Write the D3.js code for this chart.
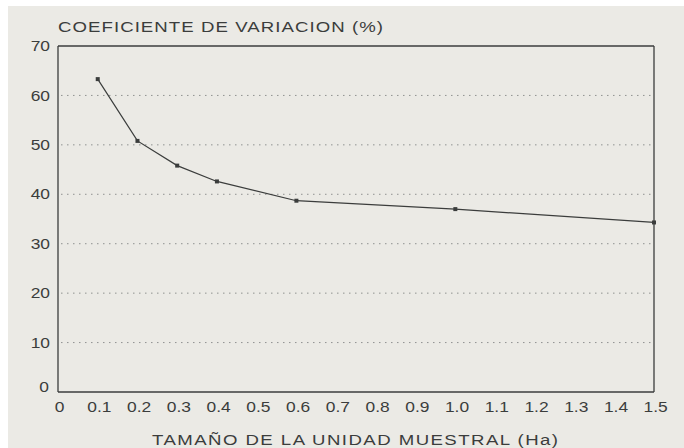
<!DOCTYPE html>
<html><head><meta charset="utf-8">
<script src="https://cdn.jsdelivr.net/npm/d3@7"></script>
<style>html,body{margin:0;padding:0;background:#fff;}svg{display:block;}</style>
</head><body>
<svg id="c" width="684" height="448"></svg>
<script>
const xValues = [0.1, 0.2, 0.3, 0.4, 0.6, 1.0, 1.5];
const cvValues = [63.3, 50.8, 45.8, 42.6, 38.7, 37.0, 34.3];
const xTicks = [0,0.1,0.2,0.3,0.4,0.5,0.6,0.7,0.8,0.9,1.0,1.1,1.2,1.3,1.4,1.5];
const xTickLabels = ["0","0.1","0.2","0.3","0.4","0.5","0.6","0.7","0.8","0.9","1.0","1.1","1.2","1.3","1.4","1.5"];
const yTicks = [0,10,20,30,40,50,60,70];
const gridValues = [10,20,30,40,50,60];
const titleText = "COEFICIENTE DE VARIACION (%)";
const xTitleText = "TAMAÑO DE LA UNIDAD MUESTRAL (Ha)";

const svg = d3.select("#c");
const W = 684, H = 448;
const m = {left:58, right:654, top:46, bottom:392};
const SX = 1.2;
svg.append("rect").attr("x",0).attr("y",0).attr("width",W).attr("height",H).attr("fill","#ffffff");
svg.append("rect").attr("x",8).attr("y",6).attr("width",W-8).attr("height",H-6).attr("fill","#ebeae5");

const x = d3.scaleLinear().domain([0,1.5]).range([m.left, m.right]);
const y = d3.scaleLinear().domain([0,70]).range([m.bottom, m.top]);
const ink = "#3b3d3c";
const font = "Liberation Sans, Arial, Helvetica, sans-serif";

// gridlines
svg.append("g").selectAll("line").data(gridValues).join("line")
  .attr("x1", m.left+3).attr("x2", m.right-2)
  .attr("y1", d=>y(d)).attr("y2", d=>y(d))
  .attr("stroke","#8f9190").attr("stroke-width",1).attr("stroke-dasharray","1.5,4.5");

// frame
svg.append("line").attr("x1",m.left).attr("x2",m.right).attr("y1",y(70)).attr("y2",y(70)).attr("stroke",ink).attr("stroke-width",1.3);
svg.append("line").attr("x1",m.left).attr("x2",m.right).attr("y1",y(0)).attr("y2",y(0)).attr("stroke",ink).attr("stroke-width",1.5);
svg.append("line").attr("x1",m.left).attr("x2",m.left).attr("y1",y(70)).attr("y2",y(0)).attr("stroke",ink).attr("stroke-width",1.3);
svg.append("line").attr("x1",m.right).attr("x2",m.right).attr("y1",y(70)).attr("y2",y(0)).attr("stroke",ink).attr("stroke-width",1.3);

// y axis labels
const yAxis = d3.axisLeft(y).tickValues(yTicks).tickSize(0).tickPadding(8).tickFormat(d3.format("d"));
const gy = svg.append("g").attr("transform",`translate(${m.left},0)`).call(yAxis);
gy.select(".domain").remove();
gy.selectAll("text").attr("font-family",font).attr("font-size",14.5).attr("fill",ink)
  .attr("x",-8/SX).attr("transform",`scale(${SX},1)`);
gy.selectAll(".tick").filter(d=>d===0).select("text").attr("dy","-0.05em").attr("x",-9/SX);

// x axis labels
const xAxis = d3.axisBottom(x).tickValues(xTicks).tickSize(0).tickPadding(10).tickFormat((d,i)=>xTickLabels[i]);
const gx = svg.append("g").attr("transform",`translate(0,${m.bottom})`).call(xAxis);
gx.select(".domain").remove();
gx.selectAll("text").attr("font-family",font).attr("font-size",14.5).attr("fill",ink)
  .attr("transform",`scale(${SX},1)`).attr("x",1);

// line
const line = d3.line().x((d,i)=>x(xValues[i])).y(d=>y(d));
svg.append("path").datum(cvValues).attr("d",line).attr("fill","none").attr("stroke",ink).attr("stroke-width",1.2);
svg.append("g").selectAll("rect").data(cvValues).join("rect")
  .attr("x",(d,i)=>x(xValues[i])-2).attr("y",d=>y(d)-2).attr("width",4).attr("height",4).attr("fill",ink);

// titles
svg.append("g").attr("transform",`translate(58,32) scale(${SX},1)`)
  .append("text").attr("x",0).attr("y",0).text(titleText)
  .attr("font-family",font).attr("font-size",15.5).attr("fill",ink)
  .attr("textLength",325/SX).attr("lengthAdjust","spacing");
svg.append("g").attr("transform",`translate(152,445) scale(${SX},1)`)
  .append("text").attr("x",0).attr("y",0).text(xTitleText)
  .attr("font-family",font).attr("font-size",15.5).attr("fill",ink)
  .attr("textLength",406/SX).attr("lengthAdjust","spacing");
</script>
</body></html>
